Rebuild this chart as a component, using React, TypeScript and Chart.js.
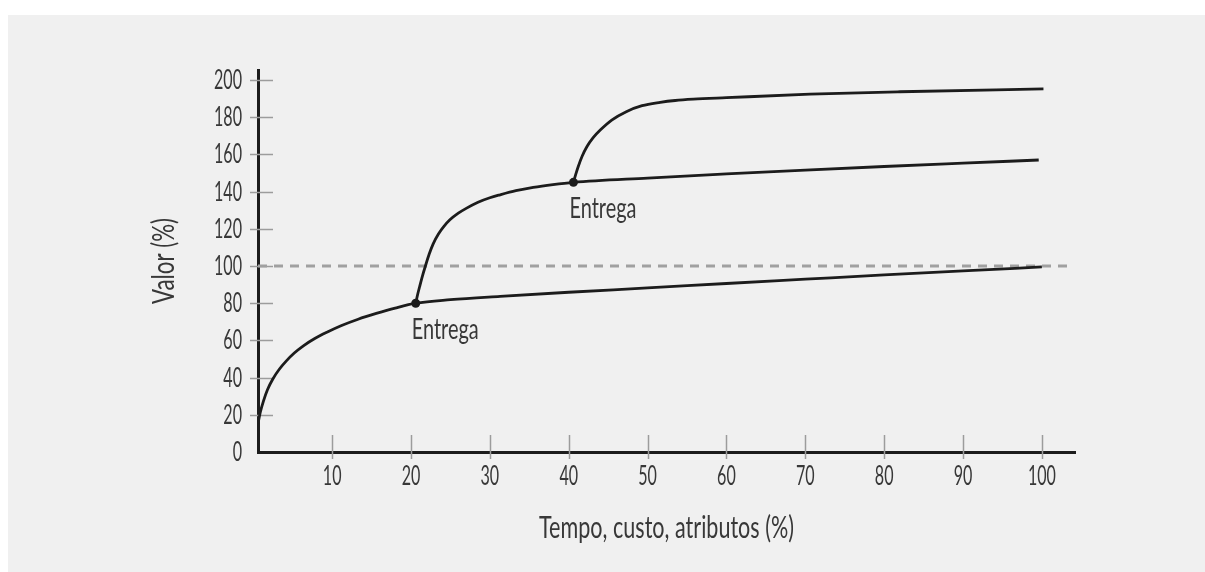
import React, { useEffect, useRef } from "react";
import { Chart, registerables } from "chart.js";

Chart.register(...registerables);

// ---- data ----
const xTickValues = [10, 20, 30, 40, 50, 60, 70, 80, 90, 100];
const yTickValues = [0, 20, 40, 60, 80, 100, 120, 140, 160, 180, 200];

const baseX = [0.6, 0.9, 1.3, 1.8, 2.5, 3.3, 4.2, 5.2, 6.4, 7.8, 9.4, 11.2, 13.3, 15.6, 18, 20.6, 25, 31.3, 40, 50, 60, 70, 80, 90, 100];
const baseY = [15.4, 21.5, 27.5, 33.5, 39.4, 44.5, 49, 53.2, 57.2, 61, 64.5, 68, 71.4, 74.5, 77.4, 80, 81.9, 83.7, 85.9, 88.2, 90.6, 92.9, 95.2, 97.4, 99.5];

const firstUpgradeX = [20.6, 20.85, 21.1, 21.45, 21.8, 22.3, 22.8, 23.5, 24.2, 24.9, 26, 27, 28.5, 30, 31.3, 33.3, 35.5, 38, 40.6, 50, 60, 70, 80, 90, 99.6];
const firstUpgradeY = [80, 84.8, 89, 94.6, 99.6, 106.3, 111.8, 117.3, 121.4, 124.7, 128.4, 131, 134.3, 136.7, 138.3, 140.5, 142.3, 143.8, 145, 147.3, 149.5, 151.6, 153.5, 155.3, 157];

const secondUpgradeX = [40.6, 40.9, 41.2, 41.7, 42.3, 43.1, 44, 45.5, 47.3, 49.3, 51.6, 53.5, 55.8, 60, 70.6, 82, 100.2];
const secondUpgradeY = [145, 149.4, 153.4, 159, 164.1, 169, 173.1, 178.6, 183, 186.2, 188, 189, 189.7, 190.5, 192.4, 193.7, 195.2];

const referenceX = [0.6, 103.8];
const referenceY = [100, 100];

const deliveryX = [20.6, 40.6];
const deliveryY = [80, 145];
const deliveryLabel = "Entrega";

const xTitle = "Tempo, custo, atributos (%)";
const yTitle = "Valor (%)";

const FONT = "Lato, 'Open Sans', 'DejaVu Sans', sans-serif";
const TEXT = "#383838";
const INK = "#1c1c1c";

const toPoints = (xs: number[], ys: number[]) => xs.map((x, i) => ({ x, y: ys[i] }));

// draws condensed text: left/center/right aligned at (x, y baseline), squeezed horizontally
function condensedText(ctx: CanvasRenderingContext2D, text: string, x: number, y: number, sx: number, align: "left" | "center" | "right") {
  const w = ctx.measureText(text).width * sx;
  let left = x;
  if (align === "center") left = x - w / 2;
  if (align === "right") left = x - w;
  ctx.save();
  ctx.translate(left, y);
  ctx.scale(sx, 1);
  ctx.textAlign = "left";
  ctx.textBaseline = "alphabetic";
  ctx.fillText(text, 0, 0);
  ctx.restore();
}

const crossTicks = {
  id: "crossTicks",
  beforeDatasetsDraw(chart: any) {
    const { ctx, chartArea, scales } = chart;
    const x = scales.x;
    const y = scales.y;
    ctx.save();
    ctx.strokeStyle = "#9c9c9c";
    ctx.lineWidth = 1.5;
    yTickValues.forEach((v) => {
      if (v === 0) return;
      const py = Math.round(y.getPixelForValue(v)) + 0.5;
      ctx.beginPath();
      ctx.moveTo(chartArea.left - 8, py);
      ctx.lineTo(chartArea.left + 15, py);
      ctx.stroke();
    });
    xTickValues.forEach((v) => {
      const px = Math.round(x.getPixelForValue(v)) + 0.5;
      ctx.beginPath();
      ctx.moveTo(px, chartArea.bottom - 17);
      ctx.lineTo(px, chartArea.bottom + 7);
      ctx.stroke();
    });
    ctx.restore();
  },
};

const axisText = {
  id: "axisText",
  afterDraw(chart: any) {
    const { ctx, chartArea, scales } = chart;
    const x = scales.x;
    const y = scales.y;
    ctx.save();
    ctx.fillStyle = TEXT;

    // tick labels
    ctx.font = `400 26px ${FONT}`;
    const tsx = 28 / ctx.measureText("200").width;
    yTickValues.forEach((v) => {
      condensedText(ctx, String(v), chartArea.left - 16, y.getPixelForValue(v) + 9, tsx, "right");
    });
    xTickValues.forEach((v) => {
      condensedText(ctx, String(v), x.getPixelForValue(v), chartArea.bottom + 33, tsx, "center");
    });

    // axis titles
    ctx.font = `400 30px ${FONT}`;
    const xsx = 255 / ctx.measureText(xTitle).width;
    condensedText(ctx, xTitle, (chartArea.left + chartArea.right) / 2, chartArea.bottom + 86, xsx, "center");

    const ysx = 86 / ctx.measureText(yTitle).width;
    ctx.save();
    ctx.translate(174, (chartArea.top + chartArea.bottom) / 2);
    ctx.rotate(-Math.PI / 2);
    condensedText(ctx, yTitle, 0, 0, ysx, "center");
    ctx.restore();

    // delivery labels
    ctx.font = `400 28px ${FONT}`;
    const esx = 67 / ctx.measureText(deliveryLabel).width;
    deliveryX.forEach((dx, i) => {
      const px = x.getPixelForValue(dx);
      const py = y.getPixelForValue(deliveryY[i]);
      condensedText(ctx, deliveryLabel, px - 4, py + 35.5, esx, "left");
    });
    ctx.restore();
  },
};

export default function App() {
  const ref = useRef<HTMLCanvasElement | null>(null);

  useEffect(() => {
    if (!ref.current) return;
    const curve = {
      borderColor: INK,
      borderWidth: 2.8,
      pointRadius: 0,
      fill: false,
      cubicInterpolationMode: "monotone" as const,
      order: 1,
    };
    const chart = new Chart(ref.current, {
      type: "line",
      data: {
        datasets: [
          {
            label: "ref",
            data: toPoints(referenceX, referenceY),
            borderColor: "#a0a0a0",
            borderWidth: 3,
            borderDash: [9, 7],
            pointRadius: 0,
            order: 10,
          },
          { label: "base", data: toPoints(baseX, baseY), ...curve },
          { label: "up1", data: toPoints(firstUpgradeX, firstUpgradeY), ...curve },
          { label: "up2", data: toPoints(secondUpgradeX, secondUpgradeY), ...curve },
          {
            label: "delivery",
            data: toPoints(deliveryX, deliveryY),
            showLine: false,
            pointRadius: 4.5,
            pointBackgroundColor: INK,
            pointBorderColor: INK,
            pointBorderWidth: 0,
            order: 0,
          },
        ],
      },
      options: {
        responsive: false,
        animation: false,
        devicePixelRatio: 1,
        layout: { padding: { left: 0, top: 70, right: 130, bottom: 0 } },
        plugins: {
          legend: { display: false },
          tooltip: { enabled: false },
          title: { display: false },
        },
        scales: {
          x: {
            type: "linear",
            min: 0.6,
            max: 104.2,
            afterFit: (s: any) => {
              s.height = 120;
            },
            afterBuildTicks: (s: any) => {
              s.ticks = xTickValues.map((v) => ({ value: v }));
            },
            grid: { display: false, drawTicks: false },
            border: { display: true, color: INK, width: 3 },
            ticks: { display: false },
            title: { display: false, text: xTitle },
          },
          y: {
            type: "linear",
            min: 0,
            max: 205.4,
            afterFit: (s: any) => {
              s.width = 258;
            },
            afterBuildTicks: (s: any) => {
              s.ticks = yTickValues.map((v) => ({ value: v }));
            },
            grid: { display: false, drawTicks: false },
            border: { display: true, color: INK, width: 3 },
            ticks: { display: false },
            title: { display: false, text: yTitle },
          },
        },
      },
      plugins: [crossTicks, axisText],
    });
    return () => chart.destroy();
  }, []);

  return (
    <div style={{ position: "fixed", left: 0, top: 0, width: 1205, height: 572, background: "#ffffff" }}>
      <div style={{ position: "absolute", left: 8, top: 15, right: 0, bottom: 0, background: "#f0f0f0" }} />
      <canvas ref={ref} width={1205} height={572} style={{ position: "absolute", left: 0, top: 0, width: 1205, height: 572 }} />
    </div>
  );
}
